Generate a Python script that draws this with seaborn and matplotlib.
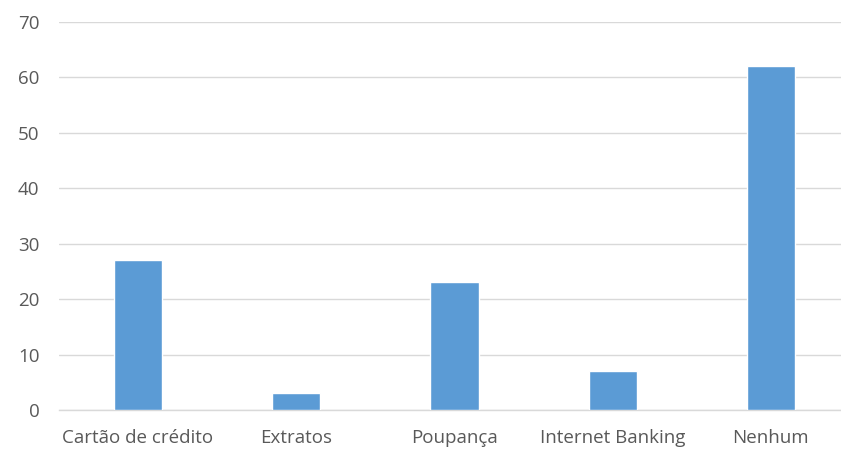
import matplotlib
matplotlib.use("Agg")
import matplotlib.pyplot as plt
import seaborn as sns
import pandas as pd

categories = ["Cartão de crédito", "Extratos", "Poupança", "Internet Banking", "Nenhum"]
values = [27, 3, 23, 7, 62]
yticks = [0, 10, 20, 30, 40, 50, 60, 70]

df = pd.DataFrame({"categoria": categories, "valor": values})

sns.set_theme(style="white")
plt.rcParams['font.family'] = ['Open Sans', 'DejaVu Sans']

fig = plt.figure(figsize=(8.41, 4.5), dpi=100)
ax = fig.add_axes([0.0699, 0.0889, 1 - 0.0699, 0.9518 - 0.0889])

sns.barplot(data=df, x="categoria", y="valor", color="#5B9BD5", saturation=1,
            width=0.305, ax=ax, zorder=3)

ax.set_ylim(0, 70)
ax.set_xlim(-0.5, 4.443)
ax.set_yticks(yticks)
ax.set_yticklabels([str(t) for t in yticks])
ax.yaxis.grid(True, color="#d9d9d9", linewidth=1.0, zorder=0)
ax.set_axisbelow(True)
for s in ax.spines.values():
    s.set_visible(False)
ax.spines["bottom"].set_visible(True)
ax.spines["bottom"].set_color("#d9d9d9")
ax.spines["bottom"].set_linewidth(1.0)
ax.set_xlabel("")
ax.set_ylabel("")
ax.tick_params(axis="y", length=0, pad=14, labelsize=13.5, labelcolor="#595959")
ax.tick_params(axis="x", length=0, pad=14, labelsize=13.5, labelcolor="#595959")

fig.savefig("out.png", dpi=100, facecolor="white")
